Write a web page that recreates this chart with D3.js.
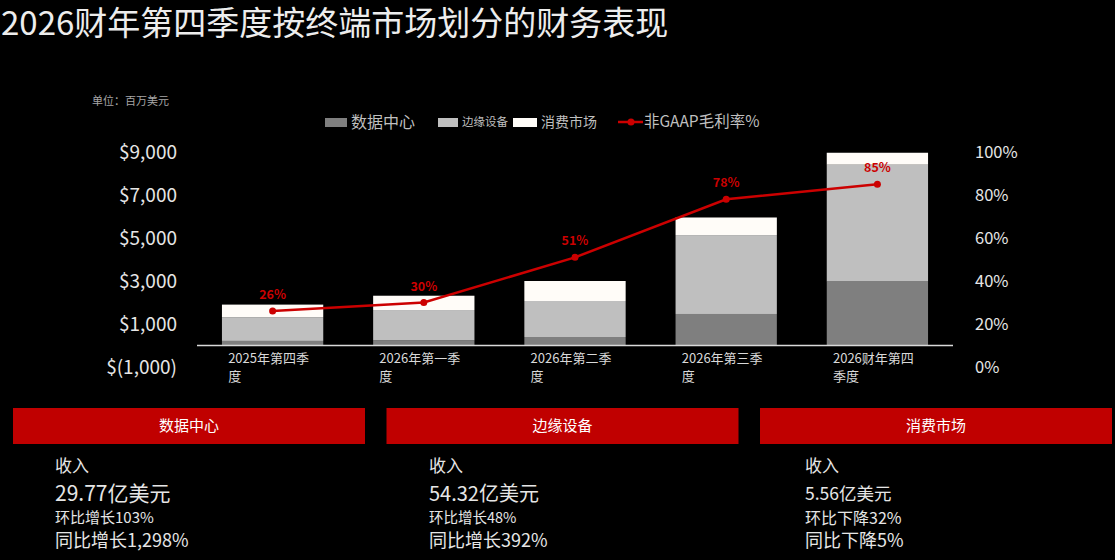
<!DOCTYPE html>
<html>
<head>
<meta charset="utf-8">
<script src="https://d3js.org/d3.v7.min.js"></script>
<style>
  body { margin: 0; background: #000; }
  svg { display: block; font-family: "Noto Sans CJK SC", "Noto Sans", sans-serif; }
</style>
</head>
<body>
<svg id="chart"></svg>
<script>
// chart data (USD millions)
var quarters = ["2025年第四季度", "2026年第一季度", "2026年第二季度", "2026年第三季度", "2026财年第四季度"];
var quarterLines = [["2025年第四季", "度"], ["2026年第一季", "度"], ["2026年第二季", "度"], ["2026年第三季", "度"], ["2026财年第四", "季度"]];
var seriesNames = ["数据中心", "边缘设备", "消费市场"];
var dataCenter = [213, 240, 395, 1466, 2977];
var edgeDevices = [1104, 1410, 1675, 3670, 5432];
var consumer = [585, 665, 930, 818, 556];
var grossMargin = [0.26, 0.30, 0.51, 0.78, 0.85];
var lineName = "非GAAP毛利率%";
var leftTicks = [-1000, 1000, 3000, 5000, 7000, 9000];
var rightTicks = [0, 0.2, 0.4, 0.6, 0.8, 1.0];

// bottom panels
var panelNames = ["数据中心", "边缘设备", "消费市场"];
var panelRevenue = ["29.77亿美元", "54.32亿美元", "5.56亿美元"];
var panelQoq = ["环比增长103%", "环比增长48%", "环比下降32%"];
var panelYoy = ["同比增长1,298%", "同比增长392%", "同比下降5%"];

var W = 1115, H = 560;
var colors = ["#7f7f7f", "#bfbfbf", "#fffcf8"];
var red = "#cc0000";
var textCol = "#e6e6e6";

var svg = d3.select("#chart").attr("width", W).attr("height", H);
svg.append("rect").attr("width", W).attr("height", H).attr("fill", "#000");

// title
svg.append("text")
  .attr("x", 1).attr("y", 35)
  .attr("fill", "#ededed")
  .style("font-size", "33px")
  .text("2026财年第四季度按终端市场划分的财务表现");

svg.append("text")
  .attr("x", 92).attr("y", 105)
  .attr("fill", "#a6a6a6")
  .style("font-size", "11px")
  .text("单位：百万美元");

// scales
var x = d3.scaleBand().domain(quarters).range([197, 953]).paddingInner(0.33).paddingOuter(0.165);
var yL = d3.scaleLinear().domain([-1000, 9000]).range([367, 152]);
var yR = d3.scaleLinear().domain([0, 1]).range([367, 152]);

// stacked bars
var rows = quarters.map(function(q, i) {
  return {q: q, a: dataCenter[i], b: edgeDevices[i], c: consumer[i]};
});
var stack = d3.stack().keys(["a", "b", "c"])(rows);

svg.append("g").selectAll("g")
  .data(stack)
  .enter().append("g")
  .attr("fill", function(d, i) { return colors[i]; })
  .selectAll("rect")
  .data(function(d) { return d; })
  .enter().append("rect")
  .attr("x", function(d) { return x(d.data.q); })
  .attr("width", x.bandwidth())
  .attr("y", function(d) { return yL(d[1]); })
  .attr("height", function(d) { return yL(d[0]) - yL(d[1]); });

// x axis baseline
svg.append("line")
  .attr("x1", x.range()[0]).attr("x2", x.range()[1])
  .attr("y1", yL(0)).attr("y2", yL(0))
  .attr("stroke", "#d9d9d9").attr("stroke-width", 1.5);

// left axis
var fmtMoney = function(v) {
  var s = d3.format(",")(Math.abs(v));
  return v < 0 ? "$(" + s + ")" : "$" + s;
};
var gL = svg.append("g")
  .attr("transform", "translate(177,0)")
  .call(d3.axisLeft(yL).tickValues(leftTicks).tickSize(0).tickPadding(0).tickFormat(fmtMoney));
gL.select(".domain").remove();
gL.selectAll("text").attr("fill", textCol).style("font-size", "19px")
  .style("font-family", "'Noto Sans CJK SC', sans-serif");

// right axis
var gR = svg.append("g")
  .attr("transform", "translate(975,0)")
  .call(d3.axisRight(yR).tickValues(rightTicks).tickSize(0).tickPadding(0).tickFormat(d3.format(".0%")));
gR.select(".domain").remove();
gR.selectAll("text").attr("fill", textCol).style("font-size", "16.5px")
  .style("font-family", "'Noto Sans CJK SC', sans-serif");

// category labels (wrapped)
quarters.forEach(function(q, i) {
  var t = svg.append("text")
    .attr("fill", "#d9d9d9")
    .style("font-size", "13px");
  t.append("tspan").attr("y", 363).text(quarterLines[i][0]);
  t.append("tspan").attr("y", 381).text(quarterLines[i][1]);
  var w = t.select("tspan").node().getComputedTextLength();
  var left = x(q) + x.bandwidth() / 2 - w / 2 - 4;
  t.selectAll("tspan").attr("x", left);
});

// margin line
var cx = function(d, i) { return x(quarters[i]) + x.bandwidth() / 2; };
var line = d3.line()
  .x(function(d, i) { return cx(d, i); })
  .y(function(d) { return yR(d); });
svg.append("path")
  .datum(grossMargin)
  .attr("d", line)
  .attr("fill", "none")
  .attr("stroke", red)
  .attr("stroke-width", 2.5);
svg.append("g").selectAll("circle")
  .data(grossMargin)
  .enter().append("circle")
  .attr("cx", cx)
  .attr("cy", function(d) { return yR(d); })
  .attr("r", 3.5)
  .attr("fill", red);
svg.append("g").selectAll("text")
  .data(grossMargin)
  .enter().append("text")
  .attr("x", cx)
  .attr("y", function(d) { return yR(d) - 12; })
  .attr("text-anchor", "middle")
  .attr("fill", red)
  .style("font-size", "12.5px")
  .style("font-weight", "bold")
  .text(d3.format(".0%"));

// legend
var legendX = [325, 438, 513];
var legendW = [22, 20, 24];
var legendFont = [16, 11.5, 14];
seriesNames.forEach(function(n, i) {
  svg.append("rect")
    .attr("x", legendX[i]).attr("y", 118)
    .attr("width", legendW[i]).attr("height", 9)
    .attr("fill", colors[i]);
  svg.append("text")
    .attr("x", legendX[i] + legendW[i] + 4).attr("y", 122)
    .attr("dy", "0.35em")
    .attr("fill", "#bfbfbf")
    .style("font-size", legendFont[i] + "px")
    .text(n);
});
svg.append("line")
  .attr("x1", 618).attr("x2", 643).attr("y1", 122).attr("y2", 122)
  .attr("stroke", red).attr("stroke-width", 2.5);
svg.append("circle").attr("cx", 631).attr("cy", 122).attr("r", 3.5).attr("fill", red);
svg.append("text")
  .attr("x", 644).attr("y", 122).attr("dy", "0.35em")
  .attr("fill", "#bfbfbf")
  .style("font-size", "15.5px")
  .text(lineName);

// bottom panels
var panelX = d3.scalePoint().domain(panelNames).range([13, 760]);
var panelW = 352;
var textX = [55, 429, 805];
var revSize = [21, 20, 17.5];
var qoqSize = [15, 14.5, 16];
var yoySize = [18, 18, 18];
panelNames.forEach(function(n, i) {
  var px = panelX(n);
  svg.append("rect")
    .attr("x", px).attr("y", 408)
    .attr("width", panelW).attr("height", 36)
    .attr("fill", "#c00000");
  svg.append("text")
    .attr("x", px + panelW / 2).attr("y", 426).attr("dy", "0.35em")
    .attr("text-anchor", "middle")
    .attr("fill", "#fff")
    .style("font-size", "15px")
    .text(n);
  var g = svg.append("g").attr("fill", textCol);
  g.append("text").attr("x", textX[i]).attr("y", 466).attr("dy", "0.35em")
    .style("font-size", "17px").text("收入");
  g.append("text").attr("x", textX[i]).attr("y", 494).attr("dy", "0.35em")
    .style("font-size", revSize[i] + "px").text(panelRevenue[i]);
  g.append("text").attr("x", textX[i]).attr("y", 518).attr("dy", "0.35em")
    .style("font-size", qoqSize[i] + "px").text(panelQoq[i]);
  g.append("text").attr("x", textX[i]).attr("y", 541).attr("dy", "0.35em")
    .style("font-size", yoySize[i] + "px").text(panelYoy[i]);
});
</script>
</body>
</html>
